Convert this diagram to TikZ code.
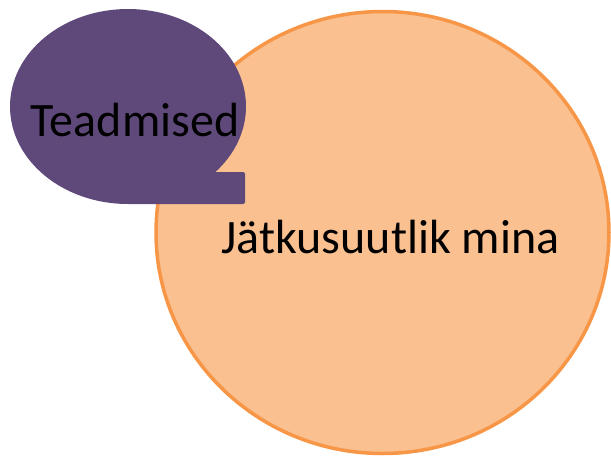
\documentclass[tikz,border=0pt]{standalone}
\usepackage{fontspec}
\setmainfont{Carlito}
\definecolor{bubblepurple}{HTML}{5F497A}
\definecolor{circlefill}{HTML}{FAC090}
\definecolor{circleline}{HTML}{F79646}
\begin{document}
\begin{tikzpicture}[x=1pt,y=-1pt,
  bigcircle/.style={fill=circlefill,draw=circleline,line width=3.5pt},
  bubble/.style={fill=bubblepurple},
  label/.style={font=\fontsize{48}{56}\selectfont,text=black,inner sep=0pt,anchor=base}]
\useasboundingbox (0,0) rectangle (611,456);
\draw[bigcircle] (382.5,232.5) ellipse[x radius=226.5,y radius=221];
\fill[bubble] (215.4,172) [rounded corners=2pt] -- (245,172) -- (245,204) [sharp corners] -- (128,204)
  arc[start angle=90,end angle=402.2,x radius=118,y radius=97.5] -- cycle;
\node[label] (teadmised) at (135,136) {Teadmised};
\node[label] (mina) at (390.5,253) {Jätkusuutlik mina};
\end{tikzpicture}
\end{document}
